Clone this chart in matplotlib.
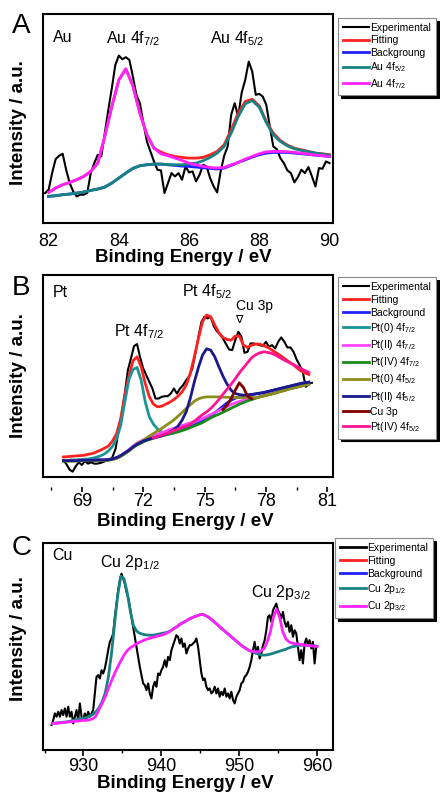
import matplotlib
matplotlib.use('Agg')
import matplotlib.pyplot as plt
from matplotlib.lines import Line2D
from matplotlib.ticker import MultipleLocator
import numpy as np

plt.rcParams['font.family'] = ['Liberation Sans', 'DejaVu Sans']
plt.rcParams['mathtext.fontset'] = 'custom'
plt.rcParams['mathtext.rm'] = 'Liberation Sans'
plt.rcParams['mathtext.it'] = 'Liberation Sans:italic'
plt.rcParams['mathtext.bf'] = 'Liberation Sans:bold'


## PANEL A - Au 4f

au_exp_e = np.linspace(81.9, 90.0, 82)
au_exp = [90, 100, 150, 192, 202, 208, 160, 120, 95, 80,
          85, 85, 90, 150, 180, 205, 200, 270, 340, 405,
          475, 503, 492, 498, 490, 440, 385, 360, 300, 245,
          215, 185, 160, 158, 90, 120, 150, 140, 150, 130,
          170, 152, 155, 125, 145, 175, 170, 135, 110, 92,
          155, 202, 230, 325, 360, 320, 392, 430, 485, 455,
          385, 388, 380, 355, 290, 230, 222, 195, 180, 158,
          150, 122, 138, 160, 150, 168, 140, 110, 165, 163,
          185, 180]

au_fit_e = np.linspace(82.0, 90.0, 41)
au_fit = [92, 105, 115, 122, 130, 140, 155, 180, 260, 350,
          430, 463, 412, 330, 265, 225, 213, 205, 200, 197,
          195, 195, 197, 205, 215, 235, 280, 330, 365, 372,
          352, 305, 270, 248, 234, 225, 220, 215, 210, 208, 205]
au_bg = [80, 82, 85, 87, 90, 93, 98, 102, 108, 120,
         135, 150, 164, 172, 175, 177, 177, 175, 173, 171,
         170, 168, 166, 164, 162, 165, 173, 182, 190, 198,
         205, 210, 212, 212, 212, 210, 208, 206, 204, 202, 200]
au_52 = [80, 82, 85, 87, 90, 93, 98, 102, 108, 120,
         135, 150, 164, 172, 175, 177, 177, 175, 175, 175,
         178, 180, 187, 197, 210, 230, 270, 320, 358, 368,
         348, 302, 265, 245, 232, 223, 218, 214, 210, 207, 204]
au_72 = [92, 105, 115, 122, 130, 140, 155, 180, 260, 350,
         430, 463, 412, 330, 265, 225, 208, 202, 195, 188,
         180, 175, 170, 167, 165, 167, 175, 182, 192, 200,
         208, 214, 215, 215, 214, 212, 210, 207, 204, 202, 200]


## PANEL B - Pt 4f

pt_exp_e = np.linspace(68.1, 80.25, 82)
pt_exp = [50, 38, 22, 16, 32, 44, 36, 48, 40, 44,
          40, 40, 42, 45, 49, 50, 60, 85, 140, 190,
          250, 320, 355, 392, 398, 358, 325, 305, 285, 265,
          235, 235, 240, 242, 242, 250, 265, 250, 265, 275,
          290, 302, 325, 370, 420, 465, 480, 475, 480, 452,
          437, 427, 415, 398, 382, 380, 410, 435, 420, 372,
          375, 400, 400, 398, 395, 392, 405, 390, 395, 385,
          405, 418, 405, 388, 388, 375, 352, 335, 315, 270,
          280, 282]

pt_fit_e = np.linspace(68.1, 80.1, 61)
pt_fit = [60, 61, 62, 63, 64, 65, 68, 70, 75, 80,
          86, 93, 108, 130, 175, 245, 302, 348, 360, 330,
          280, 240, 218, 210, 212, 218, 224, 232, 242, 255,
          275, 310, 360, 415, 465, 485, 480, 455, 432, 418,
          412, 410, 422, 422, 395, 388, 395, 398, 398, 393,
          388, 380, 372, 364, 355, 346, 338, 328, 318, 312, 307]
pt_bg = [49, 49, 49, 49, 50, 50, 50, 50, 51, 51, 51, 52, 54,
         58, 64, 72, 80, 90, 98, 104, 110, 114, 118, 122, 125, 128, 131, 134, 137, 141, 145,
         150, 156, 162, 168, 175, 183, 192, 202, 212, 222, 230, 236, 240, 243, 245,
         247, 249, 251, 253, 256, 259, 262, 265, 268, 271, 274, 277, 280, 282, 284]
pt0_72 = [50, 50, 51, 51, 52, 53, 54, 56, 59, 63,
          69, 78, 92, 115, 155, 225, 292, 322, 328, 290,
          225, 180, 158, 144, 135, 130, 129, 132]
pt2_72 = [49, 49, 49, 49, 50, 50, 50, 50, 51, 51, 51, 52, 54, 57,
          64, 72, 82, 92, 102, 108, 114, 119, 123, 128, 133, 137, 142, 146, 150, 154,
          158, 162, 166, 170, 175, 181, 187, 193, 199, 205, 211, 217, 222, 226, 230, 233, 235,
          237, 241, 244, 247, 250, 253, 257, 260, 264, 267, 270, 273, 276, 279]
pt4_72 = [48, 48, 48, 48, 49, 49, 49, 49, 50, 50,
          50, 51, 53, 56, 62, 70, 78, 88, 96, 102,
          108, 112, 116, 120, 123, 126, 129, 132, 135, 139,
          143, 148, 153, 158, 163, 170, 177, 183, 188, 194,
          200, 206, 212, 218, 223, 228, 232, 236, 240, 243,
          246, 249, 252, 256, 259, 263, 266, 269, 272, 275, 278]
pt0_52 = [48, 48, 48, 48, 49, 49, 49, 49, 50, 50, 50, 51, 53, 56, 62, 70, 78, 88,
          100, 106, 114, 123, 130, 138, 145, 154, 162, 171, 182, 193, 205, 216, 227,
          234, 238, 240, 240, 240, 240, 239, 239, 238, 238, 238, 238, 239, 239, 237,
          240, 243, 246, 249, 252, 256, 259, 263, 266, 269, 272, 275, 278]
pt2_52 = [49, 49, 49, 49, 50, 50, 50, 50, 51, 51, 51, 52, 54, 58, 64, 72, 80, 90, 98, 104, 110,
          114, 117, 120, 123, 128, 134, 142, 152, 170, 195, 235, 285, 328, 365, 384, 380,
          360, 330, 302, 278, 260, 250, 247, 245, 246, 247,
          249, 251, 253, 256, 259, 262, 265, 268, 271, 274, 277, 280, 282, 284]
cu3p = [202, 215, 235, 260, 282, 268, 242, 234]
pt4_52 = [117, 121, 125, 129, 134, 139, 144, 148, 152, 158, 167,
          177, 187, 195, 205, 218, 232, 248, 263, 278, 294,
          312, 327, 342, 357, 366, 372, 375, 373, 370, 364,
          357, 350, 344, 338, 332, 325, 319, 313]


## PANEL C - Cu 2p

cu_exp_e = np.linspace(925.9, 959.9, 160)
cu_exp = [75, 90, 110, 100, 115, 100, 120, 105, 125, 100,
          130, 100, 115, 80, 100, 120, 90, 140, 100, 90,
          110, 95, 115, 100, 110, 120, 170, 220, 225, 215,
          240, 230, 245, 270, 300, 325, 335, 350, 400, 440,
          480, 510, 530, 515, 500, 475, 460, 430, 400, 370,
          340, 310, 280, 250, 225, 200, 195, 180, 200, 170,
          155, 190, 205, 190, 230, 225, 240, 250, 270, 250,
          280, 270, 300, 315, 330, 345, 340, 320, 335, 310,
          320, 290, 305, 315, 315, 320, 325, 335, 310, 270,
          230, 210, 215, 190, 180, 185, 170, 175, 190, 170,
          185, 160, 175, 165, 185, 160, 170, 155, 175, 150,
          140, 160, 170, 180, 200, 205, 220, 225, 235, 250,
          270, 300, 325, 290, 310, 275, 290, 315, 330, 360,
          400, 405, 385, 420, 430, 440, 420, 410, 395, 415,
          385, 370, 385, 355, 375, 340, 360, 350, 310, 270,
          300, 260, 320, 335, 315, 330, 305, 325, 260, 310]

cu_fit_e = np.linspace(926.0, 960.0, 86)
cu_12 = [80, 81, 82, 83, 84, 85, 87, 90, 92, 94,
         96, 98, 102, 107, 115, 127, 145, 172, 220, 290,
         380, 465, 522, 515, 475, 420, 375, 358, 351, 348,
         346, 345, 345, 346, 348, 350, 352, 354, 358, 365,
         370, 378, 383, 388, 394, 398, 402, 405, 408, 405,
         400, 393, 385, 377, 368, 360, 352, 344, 336, 328,
         320, 312, 306, 300, 296, 292, 289, 286, 285, 286,
         288, 291, 294, 297, 300, 303, 307, 310, 312, 314,
         315, 315, 314, 313, 313, 312]
cu_32 = [80, 80, 81, 82, 83, 84, 85, 86, 87, 88, 89,
         89, 91, 94, 102, 122, 140, 160, 185, 208, 230, 250, 268, 285, 298,
         307, 313, 319, 324, 328, 332, 335, 338, 340, 343, 345, 348, 352,
         358, 365, 370, 378, 383, 388, 394, 398, 402, 405, 408, 405,
         400, 393, 385, 377, 368, 360, 352, 344, 336, 328, 320, 312, 306, 300,
         297, 295, 295, 298, 305, 325, 355, 400, 423, 398,
         355, 334, 325, 321, 319, 318, 317, 315, 314, 313, 312, 311]


RED = '#ff2020'
BLUE = '#2020ff'
TEAL = '#178282'
MAG = '#ff22ff'


def style(ax, xlim, ylim, ticks):
    ax.set_xlim(*xlim)
    ax.set_ylim(*ylim)
    ax.set_xticks(ticks)
    ax.set_yticks([])
    for s in ax.spines.values():
        s.set_linewidth(1.5)
    ax.tick_params(axis='x', labelsize=13, width=1.2)
    ax.set_xlabel('Binding Energy / eV', fontsize=13.5, fontweight='bold')
    ax.set_ylabel('Intensity / a.u.', fontsize=13.5, fontweight='bold')


def legend(ax, handles, labels, anchor, spacing):
    leg = ax.legend(handles, labels, loc='upper left', bbox_to_anchor=anchor,
                    bbox_transform=fig.transFigure, fontsize=7.5, frameon=True,
                    fancybox=False, edgecolor='#888888', framealpha=1,
                    shadow={'color': 'black', 'alpha': 1}, handlelength=2.5,
                    handletextpad=0.15, labelspacing=spacing, borderpad=0.45,
                    borderaxespad=0)
    leg.get_frame().set_linewidth(0.8)


fig = plt.figure(figsize=(4.4, 7.93), dpi=100)
axA = fig.add_axes([43/440, 1-223/793, 290/440, 209/793])
axB = fig.add_axes([43/440, 1-477/793, 290/440, 202/793])
axC = fig.add_axes([43/440, 1-750/793, 290/440, 207/793])

# A
axA.plot(au_exp_e, au_exp, color='k', lw=1.5)
axA.plot(au_fit_e, au_fit, color=RED, lw=2)
axA.plot(au_fit_e, au_bg, color=BLUE, lw=2)
axA.plot(au_fit_e, au_52, color=TEAL, lw=2)
axA.plot(au_fit_e, au_72, color=MAG, lw=2)
style(axA, (81.84, 90.10), (0, 628), [82, 84, 86, 88, 90])
axA.tick_params(axis='x', length=0, pad=7)
axA.xaxis.set_label_coords(0.483, -0.125)
axA.yaxis.set_label_coords(-0.055, 0.48)
axA.text(0.035, 0.867, 'Au', transform=axA.transAxes, fontsize=11.5)
axA.text(0.31, 0.861, r'Au 4f$_{\mathregular{7/2}}$', transform=axA.transAxes,
         fontsize=11.5, ha='center')
axA.text(0.669, 0.861, r'Au 4f$_{\mathregular{5/2}}$', transform=axA.transAxes,
         fontsize=11.5, ha='center')
fig.text(0.027, 0.958, 'A', fontsize=20)
legend(axA, axA.get_lines(),
       ['Experimental', 'Fitting', 'Backgroung',
        r'Au 4f$_{\mathregular{5/2}}$', r'Au 4f$_{\mathregular{7/2}}$'],
       (338/440, 1-18/793), 0.25)

# B
n = len(pt_fit_e)
lines = []
lines += axB.plot(pt_exp_e, pt_exp, color='k', lw=1.5)
lines += axB.plot(pt_fit_e, pt_fit, color=RED, lw=2)
lines += axB.plot(pt_fit_e, pt_bg, color=BLUE, lw=2)
lines += axB.plot(pt_fit_e[:len(pt0_72)], pt0_72, color='#1a9494', lw=2)
lines += axB.plot(pt_fit_e, pt2_72, color='#ff44ff', lw=2)
lines += axB.plot(pt_fit_e, pt4_72, color='#1a8c1a', lw=2)
lines += axB.plot(pt_fit_e, pt0_52, color='#8c8c1a', lw=2)
lines += axB.plot(pt_fit_e, pt2_52, color='#1a1a8c', lw=2)
lines += axB.plot(pt_fit_e[39:39+len(cu3p)], cu3p, color='#800000', lw=2)
lines += axB.plot(pt_fit_e[n-len(pt4_52):], pt4_52, color='#ff1493', lw=2)
style(axB, (67.10, 81.28), (0, 605), [69, 72, 75, 78, 81])
axB.xaxis.set_minor_locator(MultipleLocator(1.5))
axB.spines['bottom'].set_position(('outward', 7))
axB.spines['bottom'].set_color('none')
axB.plot([0, 1], [0, 0], transform=axB.transAxes, color='k', lw=1.5, clip_on=False)
axB.tick_params(axis='x', which='major', direction='out', length=3.5, pad=1)
axB.tick_params(axis='x', which='minor', direction='out', length=2.5, width=1)
axB.xaxis.set_label_coords(0.49, -0.18)
axB.yaxis.set_label_coords(-0.055, 0.5)
axB.text(0.035, 0.891, 'Pt', transform=axB.transAxes, fontsize=11.5)
axB.text(0.331, 0.695, r'Pt 4f$_{\mathregular{7/2}}$', transform=axB.transAxes,
         fontsize=11.5, ha='center')
axB.text(0.567, 0.893, r'Pt 4f$_{\mathregular{5/2}}$', transform=axB.transAxes,
         fontsize=11.5, ha='center')
axB.text(0.728, 0.827, 'Cu 3p', transform=axB.transAxes, fontsize=10, ha='center')
axB.text(0.676, 0.777, '\u2207', transform=axB.transAxes, fontsize=8,
         ha='center', va='center', family=['DejaVu Sans'])
fig.text(0.027, 0.628, 'B', fontsize=20)
legend(axB, lines,
       ['Experimental', 'Fitting', 'Background',
        r'Pt(0) 4f$_{\mathregular{7/2}}$', r'Pt(II) 4f$_{\mathregular{7/2}}$',
        r'Pt(IV) 4f$_{\mathregular{7/2}}$', r'Pt(0) 4f$_{\mathregular{5/2}}$',
        r'Pt(II) 4f$_{\mathregular{5/2}}$', 'Cu 3p', r'Pt(IV) 4f$_{\mathregular{5/2}}$'],
       (338/440, 1-277/793), 0.3)

# C
axC.plot(cu_exp_e, cu_exp, color='k', lw=1.5)
axC.plot(cu_fit_e, cu_12, color=TEAL, lw=2)
axC.plot(cu_fit_e, cu_32, color=MAG, lw=2)
style(axC, (924.8, 962.05), (0, 622), [930, 940, 950, 960])
axC.xaxis.set_minor_locator(MultipleLocator(5))
axC.tick_params(axis='x', which='major', direction='out', length=4, pad=2)
axC.tick_params(axis='x', which='minor', direction='out', length=2.5, width=1)
axC.xaxis.set_label_coords(0.49, -0.12)
axC.yaxis.set_label_coords(-0.055, 0.536)
axC.text(0.031, 0.918, 'Cu', transform=axC.transAxes, fontsize=11.5)
axC.text(0.30, 0.886, r'Cu 2p$_{\mathregular{1/2}}$', transform=axC.transAxes,
         fontsize=11.5, ha='center')
axC.text(0.821, 0.741, r'Cu 2p$_{\mathregular{3/2}}$', transform=axC.transAxes,
         fontsize=11.5, ha='center')
fig.text(0.027, 0.300, 'C', fontsize=20)
handles = [Line2D([], [], color=c, lw=2) for c in ['k', RED, BLUE, TEAL, MAG]]
legend(axC, handles,
       ['Experimental', 'Fitting', 'Background',
        r'Cu 2p$_{\mathregular{1/2}}$', r'Cu 2p$_{\mathregular{3/2}}$'],
       (335/440, 1-538/793), 0.3)

fig.savefig('out.png', dpi=100)
